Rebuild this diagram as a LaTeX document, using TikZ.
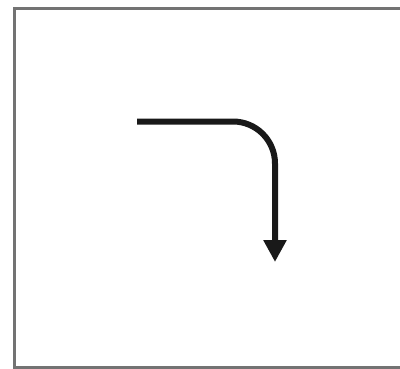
\documentclass[tikz,border=0pt]{standalone}
\usetikzlibrary{arrows.meta}
\begin{document}
\begin{tikzpicture}[x=1pt,y=-1pt,
  framestyle/.style={draw=black!55,line width=3pt},
  bendarrow/.style={draw=black!90,line width=6pt,rounded corners=42pt,-{Triangle[width=22pt,length=22pt]}}]
\useasboundingbox (0,0) rectangle (400,368);
\draw[framestyle] (404,8) -- (14.5,8) -- (14.5,367) -- (404,367);
\coordinate (start) at (137,121.5);
\coordinate (corner) at (275,121.5);
\coordinate (end) at (275,262);
\draw[bendarrow] (start) -- (corner) -- (end);
\end{tikzpicture}
\end{document}
